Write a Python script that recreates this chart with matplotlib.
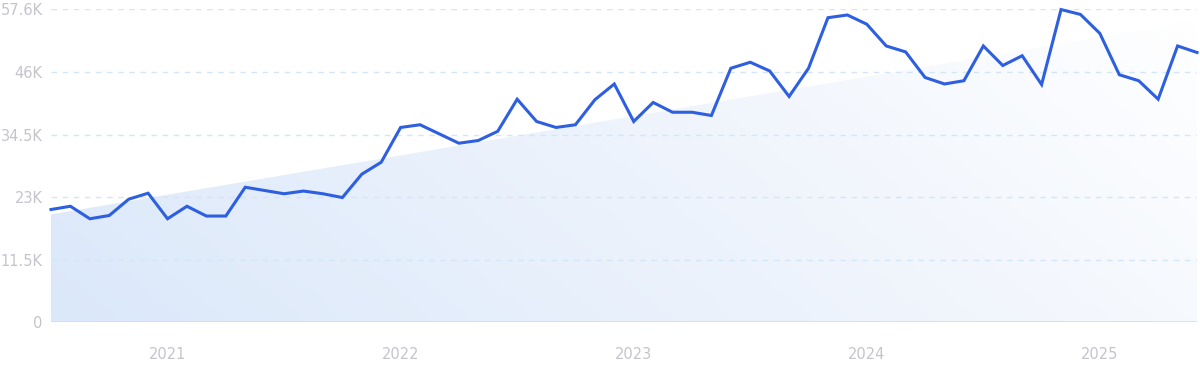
import numpy as np
import pandas as pd
import matplotlib
matplotlib.use("Agg")
import matplotlib.pyplot as plt
from matplotlib.colors import LinearSegmentedColormap
from matplotlib.patches import Polygon

# monthly values, Jul 2020 .. Jun 2025 (in thousands)
months = pd.date_range("2020-07-01", "2025-06-01", freq="MS")
values = [20.7, 21.3, 19.0, 19.6, 22.6, 23.7, 19.0, 21.3, 19.5, 19.5,
          24.8, 24.2, 23.6, 24.1, 23.6, 22.9, 27.2, 29.4, 35.8, 36.3,
          34.6, 32.9, 33.4, 35.1, 41.0, 36.9, 35.8, 36.3, 40.9, 43.8,
          36.9, 40.4, 38.6, 38.6, 38.0, 46.7, 47.8, 46.2, 41.5, 46.7,
          56.0, 56.5, 54.8, 50.8, 49.7, 45.0, 43.8, 44.4, 50.8, 47.2,
          49.0, 43.7, 57.5, 56.6, 53.1, 45.5, 44.4, 41.0, 50.8, 49.6]
trend_start = 19.8
trend_end = 55.4

y_ticks = [0, 11.5, 23, 34.5, 46, 57.6]
y_labels = ["0", "11.5K", "23K", "34.5K", "46K", "57.6K"]
year_labels = ["2021", "2022", "2023", "2024", "2025"]

x = np.arange(len(values))
n = len(values) - 1

fig = plt.figure(figsize=(12, 3.71), dpi=100)
ax = fig.add_axes([51 / 1200, 1 - 322 / 371, 1146 / 1200, 313 / 371])
ax.set_xlim(0, n)
ax.set_ylim(0, 57.6)

# trend area with diagonal gradient
cmap = LinearSegmentedColormap.from_list("fade", ["#dbe8fa", "#edf3fc", "#ffffff"])
gx, gy = np.meshgrid(np.linspace(0, 1, 300), np.linspace(0, 1, 100))
grad = gx * 0.75 + (1 - gy) * 0.25
img = ax.imshow(grad, extent=[0, n, 0, 57.6], origin="upper", aspect="auto",
                cmap=cmap, vmin=0, vmax=1, zorder=1)
poly = Polygon([[0, 0], [0, trend_start], [n, trend_end], [n, 0]],
               closed=True, facecolor="none", edgecolor="none")
ax.add_patch(poly)
img.set_clip_path(poly)

# gridlines (drawn over the area)
for t in y_ticks[1:]:
    ax.axhline(t, color="#d3e6f8", lw=1, ls=(0, (4, 4)), zorder=2)
ax.axhline(0, color="#c6e2f8", lw=1.2, zorder=2)

ax.plot(x, values, color="#2d5fe0", lw=2.2, zorder=3, clip_on=False,
        solid_joinstyle="miter")

for s in ax.spines.values():
    s.set_visible(False)
ax.set_yticks(y_ticks)
ax.set_yticklabels(y_labels)
year_pos = [list(months).index(pd.Timestamp(f"{y}-01-01")) for y in year_labels]
ax.set_xticks(year_pos)
ax.set_xticklabels(year_labels)
ax.tick_params(length=0, colors="#c4c4cc", labelsize=10.5)
ax.tick_params(axis="y", pad=6)
ax.tick_params(axis="x", pad=18)

fig.savefig("out.png", dpi=100)
